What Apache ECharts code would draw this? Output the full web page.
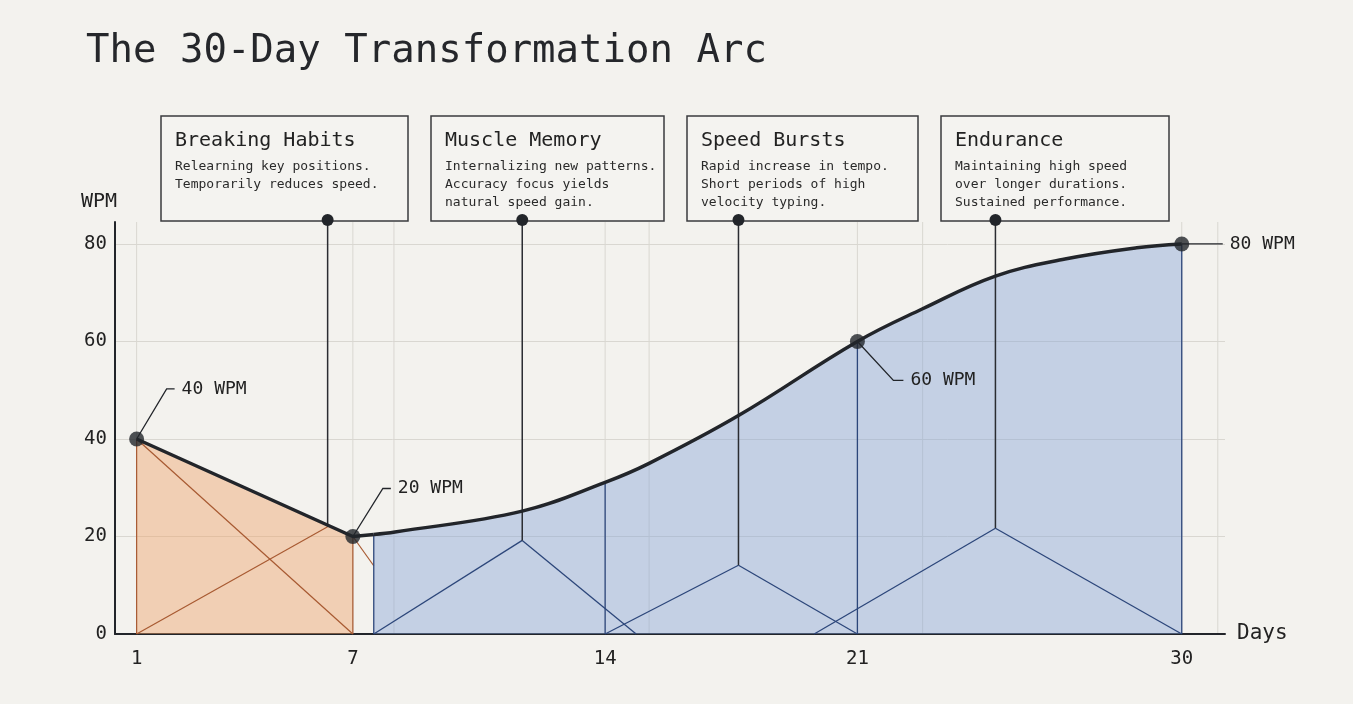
<!DOCTYPE html>
<html><head><meta charset="utf-8">
<script src="https://cdn.jsdelivr.net/npm/echarts@6/dist/echarts.min.js"></script>
<style>html,body{margin:0;padding:0;background:#f3f2ee}#c{width:1353px;height:704px}</style>
</head><body><div id="c"></div>
<script>
// ---------- data ----------
const dayTicks = [1, 7, 14, 21, 30];
const yTicks = [0, 20, 40, 60, 80];
const declinePath = [[1, 40], [7, 20], [7.58, 20.4]];
const orangeArea = [[1, 40], [7, 20]];
const growthPath = [[7.58, 20.4], [8.17, 20.9], [11.7, 25.2], [14, 31.1], [15.22, 35.0], [17.7, 44.8], [21, 60],
  [22.81, 66.7], [24.83, 73.4], [26.76, 76.9], [28.75, 79.2], [30, 80]];
const milestones = [[1, 40], [7, 20], [21, 60], [30, 80]];
const milestoneLabels = ['40 WPM', '20 WPM', '60 WPM', '80 WPM'];
const orangeSegments = [[1, 0, 1, 40], [7, 0, 7, 20], [1, 40, 7, 0], [1, 0, 6.3, 22], [7, 20, 7.58, 14]];
const blueSegments = [
  [7.58, 0, 7.58, 20.4], [14, 0, 14, 31.1], [21, 0, 21, 60], [30, 0, 30, 80],
  [7.58, 0, 11.7, 19.2], [11.7, 19.2, 14.86, 0],
  [14, 0, 17.7, 14.1], [17.7, 14.1, 21, 0],
  [19.8, 0, 24.83, 21.7], [24.83, 21.7, 30, 0]
];
const phaseStems = [[6.3, 22], [11.7, 19.2], [17.7, 14.1], [24.83, 21.7]];
const phaseTitles = ['Breaking Habits', 'Muscle Memory', 'Speed Bursts', 'Endurance'];
const phaseNotes = [
  ['Relearning key positions.', 'Temporarily reduces speed.'],
  ['Internalizing new patterns.', 'Accuracy focus yields', 'natural speed gain.'],
  ['Rapid increase in tempo.', 'Short periods of high', 'velocity typing.'],
  ['Maintaining high speed', 'over longer durations.', 'Sustained performance.']
];
const gridDays = [1, 7, 8.14, 14, 15.22, 21, 22.81, 30, 31];

// ---------- layout / style ----------
const FONT = 'DejaVu Sans Mono';
const X_MIN = 0.4, X_MAX = 31.2, Y_MAX = 84.5;
const INK = '#22252a';
const boxRects = [[161, 116, 247, 105], [431, 116, 233, 105], [687, 116, 231, 105], [941, 116, 228, 105]];
const calloutOffsets = [[30, -50, 8], [30, -48, 8], [36, 39, 10], [0, 0, 41]];

const chart = echarts.init(document.getElementById('c'), null, {renderer: 'canvas'});

function segRenderer(color, width) {
  return function (params, api) {
    const a = api.coord([api.value(0), api.value(1)]);
    const b = api.coord([api.value(2), api.value(3)]);
    return {type: 'line', shape: {x1: a[0], y1: a[1], x2: b[0], y2: b[1]},
      style: {stroke: color, lineWidth: width}};
  };
}

const graphics = [];
boxRects.forEach((r, i) => {
  graphics.push({type: 'rect', shape: {x: r[0], y: r[1], width: r[2], height: r[3]},
    style: {fill: '#f4f3f0', stroke: '#3a3b3e', lineWidth: 1.5}, z: 0});
  graphics.push({type: 'text', x: r[0] + 14, y: r[1] + 25, z: 0,
    style: {text: phaseTitles[i], font: '20px "' + FONT + '"', fill: '#222', verticalAlign: 'middle'}});
  phaseNotes[i].forEach((t, j) => {
    graphics.push({type: 'text', x: r[0] + 14, y: r[1] + 51 + j * 18, z: 0,
      style: {text: t, font: '13px "' + FONT + '"', fill: '#2a2a2a', verticalAlign: 'middle'}});
  });
});

const option = {
  backgroundColor: '#f3f2ee',
  animation: false,
  title: {text: 'The 30-Day Transformation Arc', left: 81, top: 27,
    textStyle: {fontFamily: FONT, fontSize: 39, fontWeight: 'normal', color: '#25272b'}},
  grid: {left: 115, right: 128, top: 222, bottom: 70},
  xAxis: {type: 'value', min: X_MIN, max: X_MAX,
    name: 'Days', nameLocation: 'end', nameGap: 12,
    nameTextStyle: {fontFamily: FONT, fontSize: 21, color: '#222', align: 'left', verticalAlign: 'middle'},
    axisLine: {show: true, lineStyle: {color: INK, width: 2}},
    axisTick: {show: false}, splitLine: {show: false},
    axisLabel: {customValues: dayTicks, fontFamily: FONT, fontSize: 19, color: '#222', margin: 16}},
  yAxis: {type: 'value', min: 0, max: Y_MAX, interval: 20,
    name: 'WPM', nameLocation: 'end', nameGap: 10,
    nameTextStyle: {fontFamily: FONT, fontSize: 20, color: '#222', align: 'right', verticalAlign: 'bottom', padding: [0, -2, 0, 0]},
    axisLine: {show: true, lineStyle: {color: INK, width: 2}},
    axisTick: {show: false},
    splitLine: {show: true, showMinLine: false, showMaxLine: false, lineStyle: {color: '#d9d7d1', width: 1}},
    axisLabel: {fontFamily: FONT, fontSize: 19, color: '#222', margin: 8, showMaxLabel: false,
      formatter: v => (yTicks.indexOf(v) >= 0 ? String(v) : '')}},
  graphic: graphics,
  series: [
    {type: 'custom', name: 'vgrid', silent: true, z: 0,
      data: gridDays.map(d => [d]),
      encode: {x: 0},
      renderItem: (params, api) => {
        const a = api.coord([api.value(0), 0]);
        const b = api.coord([api.value(0), Y_MAX]);
        return {type: 'line', shape: {x1: a[0], y1: a[1], x2: b[0], y2: b[1]},
          style: {stroke: '#d9d7d1', lineWidth: 1}};
      }},
    {type: 'line', name: 'orangeArea', data: orangeArea, silent: true, z: 1,
      symbol: 'none', lineStyle: {opacity: 0}, areaStyle: {color: 'rgba(238,160,100,0.42)', opacity: 1}},
    {type: 'line', name: 'blueArea', data: growthPath, smooth: 0.4, silent: true, z: 1,
      symbol: 'none', lineStyle: {opacity: 0}, areaStyle: {color: 'rgba(130,162,214,0.42)', opacity: 1}},
    {type: 'custom', name: 'orangeLines', silent: true, z: 3, data: orangeSegments,
      encode: {x: [0, 2], y: [1, 3]}, renderItem: segRenderer('#a85a32', 1.2)},
    {type: 'custom', name: 'blueLines', silent: true, z: 3, data: blueSegments,
      encode: {x: [0, 2], y: [1, 3]}, renderItem: segRenderer('#2c467a', 1.3)},
    {type: 'custom', name: 'stems', silent: true, z: 4, data: phaseStems,
      encode: {x: 0, y: 1},
      renderItem: (params, api) => {
        const top = api.coord([api.value(0), Y_MAX]);
        const bot = api.coord([api.value(0), api.value(1)]);
        return {type: 'group', children: [
          {type: 'line', shape: {x1: top[0], y1: top[1] - 2, x2: bot[0], y2: bot[1]}, style: {stroke: '#2a2c31', lineWidth: 1.5}},
          {type: 'circle', shape: {cx: top[0], cy: top[1] - 2, r: 6}, style: {fill: INK}, z2: 20}
        ]};
      }},
    {type: 'line', name: 'decline', data: declinePath, silent: true, z: 5,
      symbol: 'none', lineStyle: {color: INK, width: 3.5}},
    {type: 'line', name: 'growth', data: growthPath, smooth: 0.4, silent: true, z: 5,
      symbol: 'none', lineStyle: {color: INK, width: 3.5}},
    {type: 'custom', name: 'callouts', silent: true, z: 6, data: milestones,
      encode: {x: 0, y: 1},
      renderItem: (params, api) => {
        const p = api.coord([api.value(0), api.value(1)]);
        const o = calloutOffsets[params.dataIndex];
        const e = [p[0] + o[0], p[1] + o[1]];
        const f = [e[0] + o[2], e[1]];
        return {type: 'group', children: [
          {type: 'polyline', shape: {points: [p, e, f]}, style: {stroke: INK, lineWidth: 1.3, fill: null}},
          {type: 'text', x: f[0] + 7, y: f[1], style: {text: milestoneLabels[params.dataIndex],
            font: '18px "' + FONT + '"', fill: '#222', verticalAlign: 'middle', align: 'left'}}
        ]};
      }},
    {type: 'scatter', name: 'milestones', data: milestones, silent: true, z: 7,
      symbolSize: 15, itemStyle: {color: INK}}
  ]
};
chart.setOption(option);
</script>
</body></html>
